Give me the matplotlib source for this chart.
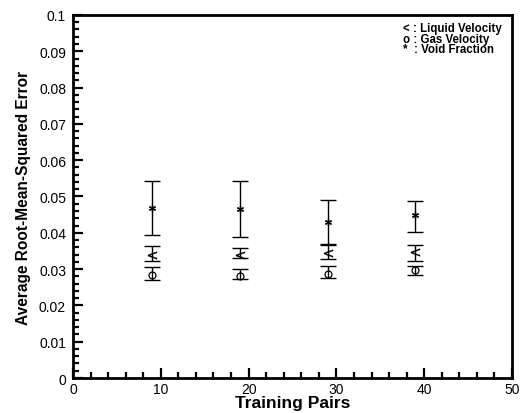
import numpy as np
import matplotlib
matplotlib.use('Agg')
import matplotlib.pyplot as plt
from matplotlib.ticker import MultipleLocator, FuncFormatter

plt.rcParams['font.family'] = ['Liberation Sans', 'DejaVu Sans']

# data
pairs = [9, 19, 29, 39]

liquid_mean = [0.0340, 0.0338, 0.0343, 0.0347]
liquid_low = [0.0322, 0.0330, 0.0328, 0.0322]
liquid_high = [0.0364, 0.0358, 0.0367, 0.0366]

gas_mean = [0.0284, 0.0282, 0.0287, 0.0298]
gas_low = [0.0271, 0.0273, 0.0275, 0.0284]
gas_high = [0.0306, 0.0301, 0.0308, 0.0309]

void_mean = [0.0469, 0.0466, 0.0431, 0.0448]
void_low = [0.0395, 0.0388, 0.0368, 0.0403]
void_high = [0.0542, 0.0542, 0.0489, 0.0488]

legend_lines = ['< : Liquid Velocity', 'o : Gas Velocity', '*  : Void Fraction']

fig = plt.figure(figsize=(5.27, 4.14), dpi=100)
ax = fig.add_axes([0.1385, 0.0845, 0.833, 0.877])


def bars(mean, low, high, **kw):
    mean = np.array(mean)
    err = [mean - np.array(low), np.array(high) - mean]
    ax.errorbar(pairs, mean, yerr=err, fmt='none', ecolor='black',
                elinewidth=1.0, capsize=5.8, capthick=1.0)
    ax.plot(pairs, mean, linestyle='none', color='black', **kw)


bars(void_mean, void_low, void_high, marker=(6, 2, 0), markersize=5, markeredgewidth=0.9)
bars(liquid_mean, liquid_low, liquid_high, marker='$<$', markersize=6.5, markeredgewidth=0.2)
bars(gas_mean, gas_low, gas_high, marker='o', markersize=5, markerfacecolor='none', markeredgewidth=0.9)

ax.set_xlim(0, 50)
ax.set_ylim(0, 0.1)
ax.xaxis.set_major_locator(MultipleLocator(10))
ax.xaxis.set_minor_locator(MultipleLocator(2))
ax.yaxis.set_major_locator(MultipleLocator(0.01))
ax.yaxis.set_minor_locator(MultipleLocator(0.002))
ax.yaxis.set_major_formatter(FuncFormatter(lambda v, p: '0' if abs(v) < 1e-9 else f'{v:.2f}'.rstrip('0')))

ax.tick_params(which='both', direction='in', top=False, right=False, labelsize=10, width=1.6)
ax.tick_params(axis='y', which='major', length=7, pad=5)
ax.tick_params(axis='x', which='major', length=7, pad=3)
ax.tick_params(which='minor', length=4)
for s in ax.spines.values():
    s.set_linewidth(2)

ax.set_xlabel('Training Pairs', fontsize=12.5, fontweight='bold', labelpad=-1)
ax.set_ylabel('Average Root-Mean-Squared Error', fontsize=11.2, fontweight='bold', labelpad=6)

ax.text(0.752, 0.98, '\n'.join(legend_lines), transform=ax.transAxes, fontsize=8.3,
        fontweight='bold', va='top', ha='left', linespacing=0.82)

fig.savefig('out.png', dpi=100)
